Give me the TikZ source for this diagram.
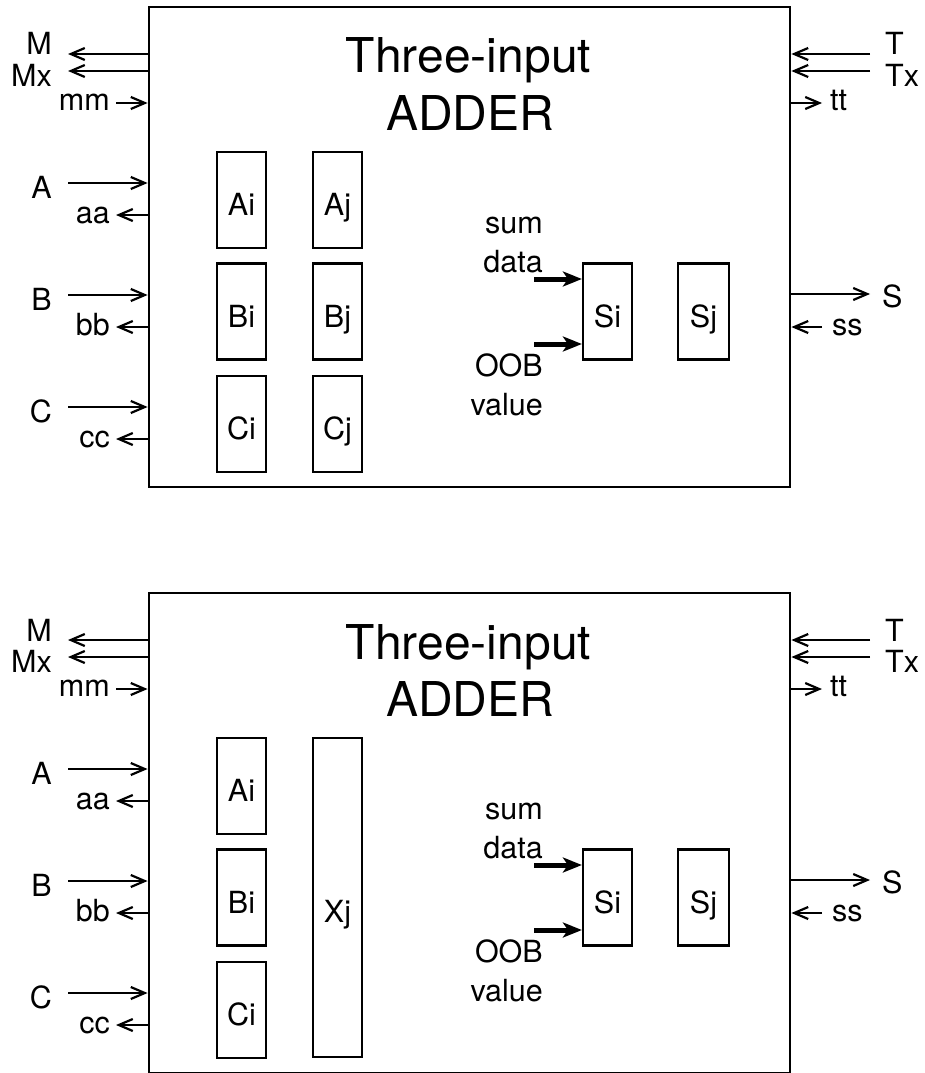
\documentclass[tikz,border=0pt]{standalone}
\usepackage{fontspec}
\setmainfont{TeX Gyre Heros}
\usetikzlibrary{arrows.meta}
\newcommand\lblfont{\fontsize{30.5}{39}\selectfont}
\newcommand\ttlfont{\fontsize{48}{57}\selectfont}
\newcommand\adderblock[2]{%
\begin{scope}[yshift=#2]
\node[mainbox] (#1box) at (469.5,247) {};
\node[titletxt, anchor=base] (#1t1) at (468.5,73) {Three-input};
\node[titletxt, anchor=base] (#1t2) at (470,130) {ADDER};
% left labels
\node[lbl, anchor=base east] (#1M) at (52,55) {M};
\node[lbl, anchor=base east] (#1Mx) at (52,86) {Mx};
\node[lbl, anchor=base east] (#1mm) at (110,110) {mm};
\node[lbl, anchor=base east] (#1A) at (52,198) {A};
\node[lbl, anchor=base east] (#1aa) at (110,223) {aa};
\node[lbl, anchor=base east] (#1B) at (52,310) {B};
\node[lbl, anchor=base east] (#1bb) at (110,335) {bb};
\node[lbl, anchor=base east] (#1C) at (52,422) {C};
\node[lbl, anchor=base east] (#1cc) at (110,447) {cc};
% right labels
\node[lbl, anchor=base west] (#1T) at (885,55) {T};
\node[lbl, anchor=base west] (#1Tx) at (885,86) {Tx};
\node[lbl, anchor=base west] (#1tt) at (830,110) {tt};
\node[lbl, anchor=base west] (#1S) at (882,307) {S};
\node[lbl, anchor=base west] (#1ss) at (832,335) {ss};
% free ends
\coordinate (#1pM) at (68,54);
\coordinate (#1pMx) at (68,71);
\coordinate (#1pmm) at (116,103);
\coordinate (#1pA) at (68,183);
\coordinate (#1paa) at (116,215);
\coordinate (#1pB) at (68,295);
\coordinate (#1pbb) at (116,327);
\coordinate (#1pC) at (68,407);
\coordinate (#1pcc) at (116,439);
\coordinate (#1pT) at (870,54);
\coordinate (#1pTx) at (870,71);
\coordinate (#1ptt) at (822,103);
\coordinate (#1pS) at (870,294);
\coordinate (#1pss) at (822,327);
\draw[arr] (#1box.west |- #1pM) -- (#1pM);
\draw[arr] (#1box.west |- #1pMx) -- (#1pMx);
\draw[arr] (#1pmm) -- (#1box.west |- #1pmm);
\draw[arr] (#1pA) -- (#1box.west |- #1pA);
\draw[arr] (#1box.west |- #1paa) -- (#1paa);
\draw[arr] (#1pB) -- (#1box.west |- #1pB);
\draw[arr] (#1box.west |- #1pbb) -- (#1pbb);
\draw[arr] (#1pC) -- (#1box.west |- #1pC);
\draw[arr] (#1box.west |- #1pcc) -- (#1pcc);
\draw[arr] (#1pT) -- (#1box.east |- #1pT);
\draw[arr] (#1pTx) -- (#1box.east |- #1pTx);
\draw[arr] (#1box.east |- #1ptt) -- (#1ptt);
\draw[arr] (#1box.east |- #1pS) -- (#1pS);
\draw[arr] (#1pss) -- (#1box.east |- #1pss);
% inner registers
\node[regbox] (#1Ai) at (241.5,200) {Ai};
\node[regbox] (#1Bi) at (241.5,311.5) {Bi};
\node[regbox] (#1Ci) at (241.5,424) {Ci};
\node[regbox] (#1Si) at (607.5,311.5) {Si};
\node[regbox, minimum width=51pt] (#1Sj) at (703.5,311.5) {Sj};
\node[lbl, anchor=base east, align=right] (#1sum) at (543,272) {sum\\data};
\node[lbl, anchor=base east, align=right] (#1oob) at (543,415) {OOB\\value};
\coordinate (#1psum) at (534,279);
\coordinate (#1poob) at (534,344);
\draw[fat] (#1psum) -- (#1Si.west |- #1psum);
\draw[fat] (#1poob) -- (#1Si.west |- #1poob);
\end{scope}}
\begin{document}
\begin{tikzpicture}[x=1pt,y=-1pt,
  mainbox/.style={draw, line width=2.8pt, minimum width=641pt, minimum height=480pt, inner sep=0pt},
  regbox/.style={draw, line width=2.2pt, minimum width=49pt, minimum height=96pt, inner sep=0pt, font=\lblfont, text height=38pt, text depth=7pt},
  lbl/.style={font=\lblfont, inner sep=0pt},
  titletxt/.style={font=\ttlfont, inner sep=0pt},
  arr/.style={line width=2.2pt, -{Straight Barb[length=14pt,width=12pt]}},
  fat/.style={line width=5pt, -{Stealth[length=19pt,width=15pt,inset=5pt]}},
]
\useasboundingbox (0,0) rectangle (925,1073);
\adderblock{u}{0pt}
\node[regbox] (uAj) at (337.5,200) {Aj};
\node[regbox] (uBj) at (337.5,311.5) {Bj};
\node[regbox] (uCj) at (337.5,424) {Cj};
\adderblock{d}{-586pt}
\begin{scope}[yshift=-586pt]
\node[regbox, minimum height=319pt, text height=56pt] (dXj) at (337.5,311.5) {Xj};
\end{scope}
\end{tikzpicture}
\end{document}
